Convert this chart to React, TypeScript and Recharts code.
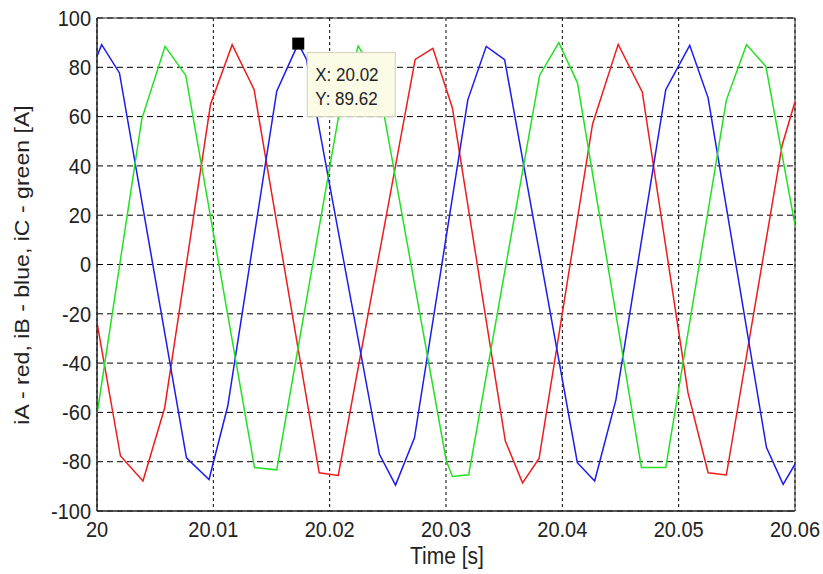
import React from "react";
import {
  LineChart,
  Line,
  XAxis,
  YAxis,
  CartesianGrid,
  ReferenceArea,
  ReferenceDot,
} from "recharts";

// time ticks and current ticks
const xTicks = [20, 20.01, 20.02, 20.03, 20.04, 20.05, 20.06];
const yTicks = [-100, -80, -60, -40, -20, 0, 20, 40, 60, 80, 100];

// iA (red)
const redT = [20, 20.00202, 20.00395, 20.00582, 20.00976, 20.01162, 20.0135, 20.0191, 20.02074,
  20.02735, 20.02887, 20.03, 20.03055, 20.0351, 20.03658, 20.038, 20.0426, 20.0448, 20.04687,
  20.0508, 20.05253, 20.0541, 20.0589, 20.06];
const redV = [-23.6, -77.7, -87.8, -58.1, 65, 89.2, 71, -84.5, -85.6,
  83.2, 87.7, 71.5, 63.5, -71.6, -88.6, -78.7, 57, 89.3, 70,
  -52, -84.5, -85.4, 48.5, 66];

// iB (blue)
const blueT = [20, 20.0004, 20.00193, 20.00769, 20.00963, 20.01124, 20.01545, 20.0173, 20.018,
  20.02428, 20.02566, 20.02729, 20.03188, 20.03346, 20.03504, 20.04129, 20.04278, 20.0446,
  20.04889, 20.05095, 20.05253, 20.05755, 20.05898, 20.06];
const blueV = [84.5, 89.2, 77.7, -78.4, -87.2, -57.4, 70.3, 89.62, 83.3,
  -77, -89.5, -70.3, 66.9, 88.5, 83.1, -80.4, -87.8, -55,
  70.9, 88.9, 67.6, -74.3, -89.2, -81];

// iC (green)
const greenT = [20, 20.00385, 20.00585, 20.00763, 20.01354, 20.01545, 20.0208, 20.02245, 20.0241,
  20.03002, 20.03055, 20.03195, 20.03805, 20.0397, 20.0413, 20.0468, 20.04889, 20.0541,
  20.05583, 20.0575, 20.06];
const greenV = [-60.8, 59, 88.5, 76.7, -82.4, -83.3, 61, 88.6, 76,
  -79.5, -86, -85.3, 76.8, 90, 73.7, -82.4, -82.4, 66.7,
  89.2, 80.3, 16];

const tipX = 20.0173;
const tipY = 89.62;

const toData = (t: number[], v: number[]) => t.map((x, i) => ({ t: x, v: v[i] }));
const redData = toData(redT, redV);
const blueData = toData(blueT, blueV);
const greenData = toData(greenT, greenV);

const FONT = "'Liberation Sans', Arial, sans-serif";

const XTick = (props: any) => {
  const { x, y, payload } = props;
  return (
    <g transform={`translate(${x},${y}) scale(1,1.1)`}>
      <text x={0} y={24} textAnchor="middle" fontFamily={FONT} fontSize={20} fill="#222">
        {String(payload.value)}
      </text>
    </g>
  );
};

const YTick = (props: any) => {
  const { x, y, payload } = props;
  return (
    <g transform={`translate(${x},${y}) scale(1,1.1)`}>
      <text x={-6} y={7} textAnchor="end" fontFamily={FONT} fontSize={20} fill="#222">
        {String(payload.value)}
      </text>
    </g>
  );
};

const DataTip = (props: any) => {
  const { cx, cy } = props;
  return (
    <g>
      <rect x={cx - 6} y={cy - 6} width={12} height={12} fill="#000" />
      <rect x={cx + 9} y={cy + 9} width={88} height={64} fill="#fbfbe6" stroke="#cfcfbf" />
      <g transform={`translate(${cx + 17},${cy + 37}) scale(1,1.1)`}>
        <text x={0} y={0} fontFamily={FONT} fontSize={17} fill="#222">X: 20.02</text>
      </g>
      <g transform={`translate(${cx + 17},${cy + 61}) scale(1,1.1)`}>
        <text x={0} y={0} fontFamily={FONT} fontSize={17} fill="#222">Y: 89.62</text>
      </g>
    </g>
  );
};

export default function App() {
  return (
    <div style={{ position: "absolute", left: 0, top: 0, width: 823, height: 574, background: "#fff" }}>
      <LineChart width={823} height={574} margin={{ top: 18, right: 28, bottom: 0, left: 0 }}>
        <CartesianGrid horizontal vertical={false} stroke="#000" strokeDasharray="6 4" />
        <CartesianGrid horizontal={false} vertical stroke="#000" strokeDasharray="3 3" />
        <XAxis
          dataKey="t"
          type="number"
          domain={[20, 20.06]}
          ticks={xTicks}
          allowDataOverflow
          height={63}
          tickLine={false}
          tickSize={0}
          tickMargin={0}
          axisLine={{ stroke: "#222" }}
          tick={<XTick />}
          label={() => (
            <g transform="translate(447,564) scale(1,1.1)">
              <text x={0} y={0} textAnchor="middle" fontFamily={FONT} fontSize={21} fill="#222">
                Time [s]
              </text>
            </g>
          )}
        />
        <YAxis
          type="number"
          domain={[-100, 100]}
          ticks={yTicks}
          allowDataOverflow
          width={97}
          tickLine={false}
          tickSize={0}
          tickMargin={0}
          axisLine={{ stroke: "#222" }}
          tick={<YTick />}
          label={() => (
            <g transform="translate(29,265) rotate(-90) scale(1.1,1)">
              <text x={0} y={0} textAnchor="middle" fontFamily={FONT} fontSize={21} fill="#222">
                iA - red, iB - blue, iC - green [A]
              </text>
            </g>
          )}
        />
        <ReferenceArea x1={20} x2={20.06} y1={-100} y2={100} fill="none" stroke="#222" strokeWidth={1} />
        <Line data={redData} dataKey="v" type="linear" stroke="#ee1c1c" strokeWidth={1.5} dot={false} isAnimationActive={false} />
        <Line data={blueData} dataKey="v" type="linear" stroke="#1c1cee" strokeWidth={1.5} dot={false} isAnimationActive={false} />
        <Line data={greenData} dataKey="v" type="linear" stroke="#22e022" strokeWidth={1.5} dot={false} isAnimationActive={false} />
        <ReferenceDot x={tipX} y={tipY} shape={<DataTip />} />
      </LineChart>
    </div>
  );
}
